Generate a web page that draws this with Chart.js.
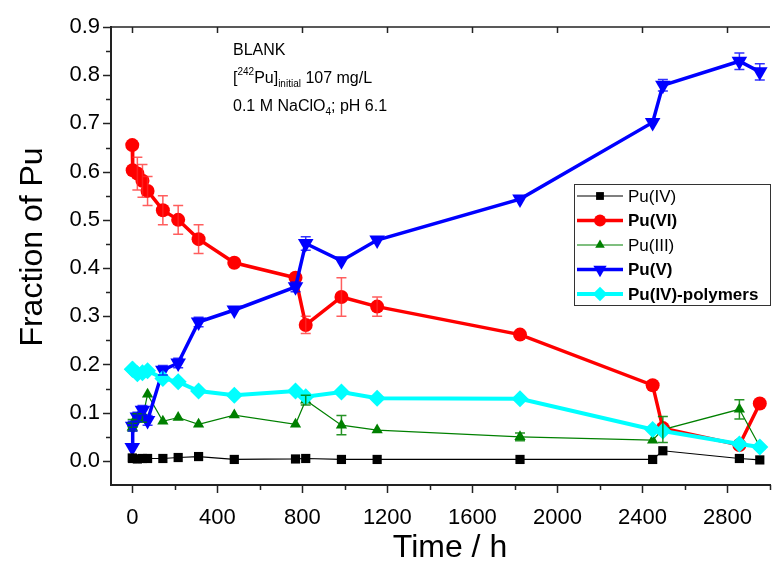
<!DOCTYPE html>
<html><head><meta charset="utf-8">
<script src="https://cdn.jsdelivr.net/npm/chart.js@4/dist/chart.umd.min.js"></script>
<style>html,body{margin:0;padding:0;background:#fff}#wrap{width:784px;height:562px;position:relative}</style>
</head><body><div id="wrap"><canvas id="c" width="784" height="562"></canvas></div>
<script>
// ---- data (time in hours) ----
const timeH   = [0, 2, 24, 48, 72, 144, 216, 312, 480, 768, 816, 984, 1152, 1824, 2448, 2496, 2856, 2952];
const puIV    = [0.006, 0.005, 0.004, 0.005, 0.005, 0.005, 0.007, 0.009, 0.003, 0.004, 0.005, 0.003, 0.003, 0.003, 0.003, 0.021, 0.005, 0.002];
const puVI    = [0.655, 0.603, 0.596, 0.581, 0.560, 0.520, 0.500, 0.460, 0.411, 0.380, 0.282, 0.340, 0.320, 0.262, 0.157, 0.068, 0.033, 0.119];
const puVIerr = [0, 0, 0.034, 0.034, 0.030, 0.030, 0.030, 0.030, 0, 0, 0.018, 0.040, 0.020, 0, 0, 0, 0, 0];
const puIII   = [0.070, 0.078, 0.090, 0.088, 0.138, 0.082, 0.090, 0.076, 0.095, 0.076, 0.126, 0.074, 0.064, 0.050, 0.043, 0.065, 0.107, 0.030];
const puIIIerr= [0.008, 0.008, 0.008, 0.008, 0, 0, 0, 0, 0, 0, 0.010, 0.020, 0, 0.008, 0, 0.027, 0.020, 0];
const puV     = [0.028, 0.072, 0.091, 0.105, 0.084, 0.188, 0.203, 0.288, 0.313, 0.361, 0.451, 0.415, 0.458, 0.543, 0.702, 0.779, 0.829, 0.807];
const puVerr  = [0, 0.010, 0.010, 0.010, 0.010, 0.010, 0.010, 0.010, 0, 0.010, 0.014, 0, 0, 0, 0, 0.012, 0.017, 0.017];
const puPoly  = [0.190, 0.190, 0.181, 0.183, 0.187, 0.171, 0.164, 0.145, 0.136, 0.145, 0.133, 0.143, 0.130, 0.129, 0.065, 0.062, 0.035, 0.029];
const xTicks  = [0, 400, 800, 1200, 1600, 2000, 2400, 2800];
const yTicks  = [0.0, 0.1, 0.2, 0.3, 0.4, 0.5, 0.6, 0.7, 0.8, 0.9];
const seriesNames = ['Pu(IV)', 'Pu(VI)', 'Pu(III)', 'Pu(V)', 'Pu(IV)-polymers'];
const xTitle = 'Time / h';
const yTitle = 'Fraction of Pu';

const FONT = '"Liberation Sans", Arial, Helvetica, sans-serif';
const pts = arr => arr.map((v, i) => ({x: timeH[i], y: v}));

const datasets = [
  {label: seriesNames[0], data: pts(puIV), borderColor: '#000', backgroundColor: '#000', borderWidth: 1.2,
   pointStyle: 'rect', pointRadius: 6.5, pointBorderWidth: 0, order: 0, bold: false},
  {label: seriesNames[1], data: pts(puVI), err: puVIerr, borderColor: '#ff0000', backgroundColor: '#ff0000', borderWidth: 3.5,
   pointStyle: 'circle', pointRadius: 7, pointBorderWidth: 0, order: 4, bold: true, errColor: 'rgba(255,40,40,0.75)'},
  {label: seriesNames[2], data: pts(puIII), err: puIIIerr, borderColor: '#008000', backgroundColor: '#008000', borderWidth: 1.2,
   pointStyle: 'triangle', pointRadius: 6.5, pointBorderWidth: 0, order: 3, bold: false, errColor: 'rgba(0,128,0,0.85)'},
  {label: seriesNames[3], data: pts(puV), err: puVerr, borderColor: '#0000ff', backgroundColor: '#0000ff', borderWidth: 3.5,
   pointStyle: 'triangle', pointRotation: 180, pointRadius: 9, pointBorderWidth: 0, order: 2, bold: true, errColor: 'rgba(0,0,255,0.8)'},
  {label: seriesNames[4], data: pts(puPoly), borderColor: '#00ffff', backgroundColor: '#00ffff', borderWidth: 4,
   pointStyle: 'rectRot', pointRadius: 8.5, pointBorderWidth: 0, order: 1, bold: true}
];
datasets.forEach(d => { d.tension = 0; d.clip = false; d.fill = false; });

const axesPlugin = {
  id: 'axesExtras',
  afterDatasetsDraw(chart) {
    const ctx = chart.ctx;
    chart.data.datasets.forEach((ds, di) => {
      if (!ds.err) return;
      const meta = chart.getDatasetMeta(di);
      const ys = chart.scales.y;
      ctx.save();
      ctx.strokeStyle = ds.errColor; ctx.lineWidth = 1.5;
      ds.data.forEach((p, i) => {
        const e = ds.err[i]; if (!e) return;
        const px = meta.data[i].x;
        const y1 = ys.getPixelForValue(p.y - e), y2 = ys.getPixelForValue(p.y + e);
        ctx.beginPath();
        ctx.moveTo(px, y1); ctx.lineTo(px, y2);
        ctx.moveTo(px - 5, y1); ctx.lineTo(px + 5, y1);
        ctx.moveTo(px - 5, y2); ctx.lineTo(px + 5, y2);
        ctx.stroke();
      });
      ctx.restore();
    });
  },
  afterDraw(chart) {
    const ctx = chart.ctx, xs = chart.scales.x, ys = chart.scales.y, a = chart.chartArea;
    ctx.save();
    ctx.strokeStyle = '#222';
    ctx.lineWidth = 1.5;
    ctx.beginPath(); ctx.moveTo(a.left, a.top); ctx.lineTo(a.right, a.top); ctx.stroke();
    for (let v = 0; v <= 3000; v += 200) {
      const px = Math.round(xs.getPixelForValue(v)) + 0.5;
      const major = v % 400 === 0;
      ctx.beginPath(); ctx.moveTo(px, a.bottom); ctx.lineTo(px, a.bottom + (major ? 8 : 5)); ctx.stroke();
      if (major) { ctx.beginPath(); ctx.moveTo(px, a.top); ctx.lineTo(px, a.top + 6); ctx.stroke(); }
    }
    for (let k = 0; k <= 18; k++) {
      const v = k * 0.05;
      const py = Math.round(ys.getPixelForValue(v)) + 0.5;
      const major = k % 2 === 0;
      ctx.beginPath(); ctx.moveTo(a.left, py); ctx.lineTo(a.left - (major ? 8 : 5), py); ctx.stroke();
    }
    ctx.restore();

    // axis titles
    ctx.save();
    ctx.fillStyle = '#000'; ctx.textAlign = 'center'; ctx.textBaseline = 'middle';
    ctx.font = '32px ' + FONT;
    ctx.fillText(xTitle, 450, 548);
    ctx.translate(33, 247); ctx.rotate(-Math.PI / 2);
    ctx.fillText(yTitle, 0, 0);
    ctx.restore();

    // annotation text
    ctx.save();
    ctx.fillStyle = '#000'; ctx.textBaseline = 'alphabetic'; ctx.textAlign = 'left';
    const big = '16px ' + FONT, small = '10px ' + FONT;
    const x0 = 233;
    ctx.font = big; ctx.fillText('BLANK', x0, 55);
    let x = x0, y = 83;
    ctx.font = big; ctx.fillText('[', x, y); x += ctx.measureText('[').width;
    ctx.font = small; ctx.fillText('242', x, y - 8); x += ctx.measureText('242').width;
    ctx.font = big; ctx.fillText('Pu]', x, y); x += ctx.measureText('Pu]').width;
    ctx.font = small; ctx.fillText('initial', x, y + 4); x += ctx.measureText('initial').width;
    ctx.font = big; ctx.fillText(' 107 mg/L', x, y);
    x = x0; y = 111;
    ctx.font = big; ctx.fillText('0.1 M NaClO', x, y); x += ctx.measureText('0.1 M NaClO').width;
    ctx.font = small; ctx.fillText('4', x, y + 4); x += ctx.measureText('4').width;
    ctx.font = big; ctx.fillText('; pH 6.1', x, y);
    ctx.restore();

    // legend
    ctx.save();
    ctx.strokeStyle = '#333'; ctx.lineWidth = 1;
    ctx.fillStyle = '#fff';
    ctx.fillRect(574, 184, 197, 121);
    ctx.strokeRect(574.5, 184.5, 196, 121);
    const rowY = [196, 220.5, 245, 269.5, 294];
    chart.data.datasets.forEach((ds, i) => {
      const yy = rowY[i];
      ctx.strokeStyle = ds.borderColor; ctx.lineWidth = ds.borderWidth;
      ctx.beginPath(); ctx.moveTo(577, yy); ctx.lineTo(623, yy); ctx.stroke();
      ctx.fillStyle = ds.backgroundColor;
      Chart.helpers.drawPoint(ctx, {pointStyle: ds.pointStyle, rotation: ds.pointRotation || 0,
        radius: ds.pointRadius * 0.85, borderWidth: 0}, 600, yy);
      ctx.fillStyle = '#000';
      ctx.font = (ds.bold ? 'bold ' : '') + '17px ' + FONT;
      ctx.textBaseline = 'middle';
      ctx.fillText(ds.label, 628, yy + 1);
    });
    ctx.restore();
  }
};

new Chart(document.getElementById('c'), {
  type: 'line',
  data: {datasets},
  plugins: [axesPlugin],
  options: {
    responsive: false, animation: false, devicePixelRatio: 1,
    layout: {padding: {left: 0, right: 14, top: 27, bottom: 0}},
    plugins: {legend: {display: false}, tooltip: {enabled: false}},
    scales: {
      x: {
        type: 'linear', min: -100, max: 3000,
        afterBuildTicks: s => { s.ticks = xTicks.map(v => ({value: v})); },
        afterFit: s => { s.height = 77; },
        grid: {display: true, drawOnChartArea: false, drawTicks: true, tickLength: 8, tickColor: 'rgba(0,0,0,0)'},
        border: {display: true, color: '#222', width: 2},
        ticks: {color: '#000', padding: 12, maxRotation: 0, autoSkip: false, font: {family: FONT, size: 22}, callback: v => String(v)},
        title: {display: false}
      },
      y: {
        type: 'linear', min: -0.05, max: 0.9,
        afterBuildTicks: s => { s.ticks = yTicks.map(v => ({value: v})); },
        afterFit: s => { s.width = 111; },
        grid: {display: true, drawOnChartArea: false, drawTicks: true, tickLength: 8, tickColor: 'rgba(0,0,0,0)'},
        border: {display: true, color: '#222', width: 2},
        ticks: {color: '#000', padding: 3, font: {family: FONT, size: 22}, callback: v => Number(v).toFixed(1)},
        title: {display: false}
      }
    }
  }
});
</script>
</body></html>
